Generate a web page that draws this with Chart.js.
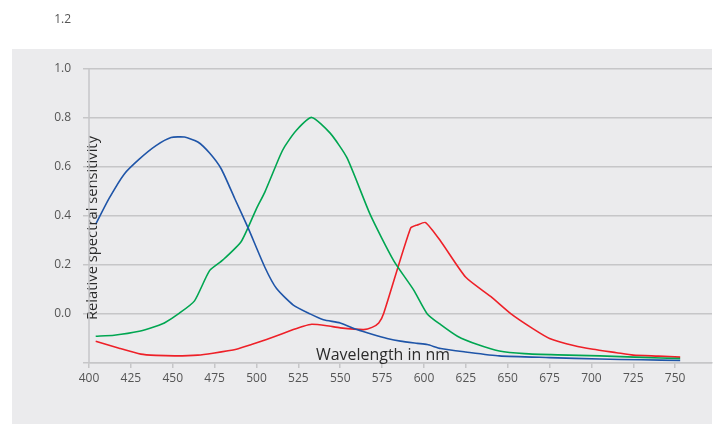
<!DOCTYPE html>
<html>
<head>
<meta charset="utf-8">
<script src="https://cdn.jsdelivr.net/npm/chart.js@4/dist/chart.umd.min.js"></script>
<style>
  html, body { margin: 0; padding: 0; background: #fff; }
  #wrap { width: 716px; height: 424px; position: relative; }
</style>
</head>
<body>
<div id="wrap"><canvas id="cones"></canvas></div>
<script>
// tick labels
const xTicks = [400, 425, 450, 475, 500, 525, 550, 575, 600, 625, 650, 675, 700, 725, 750];
const yTicks = [-0.2, 0, 0.2, 0.4, 0.6, 0.8, 1.0, 1.2];

// blue (short) cone
const blueNm  = [404, 412, 421, 430, 440, 449, 457, 465, 472, 479, 487, 495, 505, 512, 522, 532, 540, 550, 560, 570, 578, 586, 596, 602, 610, 625, 645, 675, 705, 730, 753];
const blueVal = [0.365, 0.47, 0.569, 0.63, 0.685, 0.718, 0.72, 0.70, 0.655, 0.59, 0.47, 0.35, 0.19, 0.103, 0.036, 0.0, -0.024, -0.037, -0.064, -0.085, -0.10, -0.111, -0.12, -0.125, -0.141, -0.155, -0.171, -0.178, -0.184, -0.187, -0.19];

// green (medium) cone
const greenNm  = [404, 415, 430, 440, 445, 454, 463, 472, 480, 491, 500, 505, 514, 517, 524, 533, 544, 554, 568, 582, 594, 602, 610, 620, 632, 645, 660, 680, 705, 730, 753];
const greenVal = [-0.091, -0.087, -0.071, -0.05, -0.037, 0.003, 0.053, 0.176, 0.22, 0.296, 0.429, 0.496, 0.643, 0.683, 0.749, 0.80, 0.736, 0.636, 0.403, 0.216, 0.096, 0.0, -0.044, -0.091, -0.125, -0.151, -0.162, -0.167, -0.171, -0.177, -0.182];

// red (long) cone
const redNm  = [404, 418, 431, 440, 452, 465, 474, 488, 497, 506, 515, 522, 528, 533, 542, 550, 564, 569, 573, 576, 592, 596, 601, 610, 625, 640, 652, 665, 675, 690, 701, 715, 725, 740, 753];
const redVal = [-0.111, -0.14, -0.164, -0.169, -0.171, -0.168, -0.16, -0.144, -0.125, -0.104, -0.082, -0.064, -0.05, -0.042, -0.048, -0.057, -0.064, -0.055, -0.037, 0.003, 0.349, 0.362, 0.372, 0.296, 0.149, 0.07, 0.0, -0.06, -0.1, -0.13, -0.144, -0.158, -0.168, -0.172, -0.176];

const toPoints = (xs, ys) => xs.map((x, i) => ({ x: x, y: ys[i] }));

const gridGray = '#c6c6c8';
const labelFont = { family: "'Open Sans', sans-serif", size: 12 };

function fitFont(ctx, text, width, family) {
  ctx.font = '16px ' + family;
  const size = 16 * width / ctx.measureText(text).width;
  return size.toFixed(2) + 'px ' + family;
}

const backdrop = {
  id: 'backdrop',
  beforeDraw(chart) {
    const ctx = chart.ctx;
    ctx.save();
    ctx.fillStyle = '#ebebed';
    ctx.fillRect(12, 49, 700, 375);
    ctx.restore();
  },
  afterDraw(chart) {
    const ctx = chart.ctx;
    const area = chart.chartArea;
    const y = chart.scales.y;
    ctx.save();
    // left axis line only from 1.0 down
    ctx.strokeStyle = gridGray;
    ctx.lineWidth = 1.5;
    ctx.beginPath();
    ctx.moveTo(area.left, y.getPixelForValue(1.0));
    ctx.lineTo(area.left, area.bottom);
    ctx.stroke();
    ctx.restore();
  },
  afterDatasetsDraw(chart) {
    const ctx = chart.ctx;
    const fam = "'Open Sans', sans-serif";
    ctx.save();
    ctx.fillStyle = '#2b2b2b';
    ctx.textAlign = 'center';
    ctx.textBaseline = 'alphabetic';
    ctx.font = fitFont(ctx, 'Wavelength in nm', 134, fam);
    ctx.fillText('Wavelength in nm', 383, 359.5);
    ctx.translate(96.5, 228);
    ctx.rotate(-Math.PI / 2);
    ctx.font = fitFont(ctx, 'Relative spectral sensitivity', 184, fam);
    ctx.fillText('Relative spectral sensitivity', 0, 0);
    ctx.restore();
  }
};

const line = (label, color, xs, ys) => ({
  label: label,
  data: toPoints(xs, ys),
  borderColor: color,
  backgroundColor: color,
  borderWidth: 1.6,
  pointRadius: 0,
  tension: 0.2,
  fill: false
});

new Chart(document.getElementById('cones'), {
  type: 'line',
  data: {
    datasets: [
      line('Blue', '#1f55a8', blueNm, blueVal),
      line('Green', '#00a651', greenNm, greenVal),
      line('Red', '#ee2028', redNm, redVal)
    ]
  },
  options: {
    responsive: true,
    maintainAspectRatio: false,
    animation: false,
    layout: { padding: { top: 15, right: 4, left: 0, bottom: 0 } },
    plugins: { legend: { display: false }, tooltip: { enabled: false } },
    scales: {
      x: {
        type: 'linear',
        min: 400,
        max: 772,
        afterBuildTicks: s => { s.ticks = xTicks.map(v => ({ value: v })); },
        afterFit: s => { s.height = 61; },
        grid: { drawOnChartArea: false, drawTicks: true, tickLength: 5, color: gridGray, lineWidth: 1.5 },
        border: { display: true, color: gridGray, width: 1.5 },
        ticks: { color: '#555', font: labelFont, padding: 3, maxRotation: 0, autoSkip: false }
      },
      y: {
        min: -0.2,
        max: 1.2,
        afterBuildTicks: s => { s.ticks = yTicks.map(v => ({ value: v })); },
        afterFit: s => { s.width = 89; },
        grid: {
          color: c => (c.tick && c.tick.value > 1.1) ? 'rgba(0,0,0,0)' : gridGray,
          lineWidth: 1.5,
          tickLength: 6
        },
        border: { display: false },
        ticks: {
          color: '#555',
          font: labelFont,
          padding: 12,
          callback: v => v < -0.1 ? '' : v.toFixed(1)
        }
      }
    }
  },
  plugins: [backdrop]
});
</script>
</body>
</html>
